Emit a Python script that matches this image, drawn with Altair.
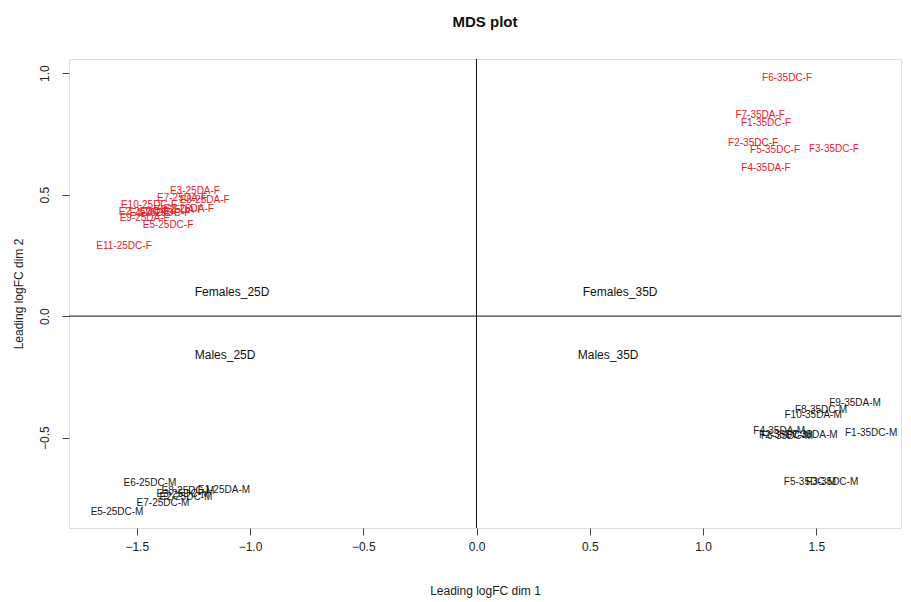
import altair as alt
import pandas as pd

# ---- data ----
labels = [
    # females 35D (red)
    "F6-35DC-F", "F7-35DA-F", "F1-35DC-F", "F2-35DC-F", "F5-35DC-F", "F3-35DC-F", "F4-35DA-F",
    # females 25D (red)
    "E3-25DA-F", "E7-25DA-F", "E8-25DA-F", "E10-25DC-F", "E6-25DA-F", "E4-25DC-F",
    "E1-25DC-F", "E2-25DA-F", "E2-25DC-F", "E9-25DA-F", "E5-25DC-F", "E11-25DC-F",
    # males 25D (black)
    "E6-25DC-M", "E8-25DC-M", "E3-25DC-M", "E2-25DC-M", "E1-25DA-M", "E7-25DC-M", "E5-25DC-M",
    # males 35D (black)
    "F9-35DA-M", "F8-35DC-M", "F10-35DA-M", "F4-35DA-M", "F2-35DC-M", "F6-35DC-M",
    "F7-35DA-M", "F1-35DC-M", "F5-35DC-M", "F3-35DC-M",
]
dim1 = [
    1.371, 1.252, 1.278, 1.221, 1.318, 1.578, 1.278,
    -1.243, -1.300, -1.200, -1.446, -1.315, -1.375,
    -1.420, -1.270, -1.468, -1.465, -1.362, -1.556,
    -1.442, -1.274, -1.296, -1.283, -1.115, -1.384, -1.587,
    1.671, 1.521, 1.486, 1.336, 1.362, 1.371,
    1.480, 1.742, 1.472, 1.570,
]
dim2 = [
    0.979, 0.827, 0.794, 0.712, 0.683, 0.687, 0.609,
    0.514, 0.486, 0.477, 0.457, 0.436, 0.424,
    0.424, 0.440, 0.428, 0.403, 0.374, 0.288,
    -0.687, -0.720, -0.733, -0.745, -0.716, -0.770, -0.807,
    -0.358, -0.387, -0.407, -0.473, -0.490, -0.494,
    -0.490, -0.481, -0.683, -0.683,
]
sex = ["F"] * 19 + ["M"] * 17

group_labels = ["Females_25D", "Females_35D", "Males_25D", "Males_35D"]
group_x = [-1.079, 0.634, -1.110, 0.581]
group_y = [0.099, 0.099, -0.160, -0.160]

x_ticks = [-1.5, -1.0, -0.5, 0.0, 0.5, 1.0, 1.5]
y_ticks = [-0.5, 0.0, 0.5, 1.0]

pts = pd.DataFrame({"label": labels, "x": dim1, "y": dim2, "sex": sex})
grp = pd.DataFrame({"label": group_labels, "x": group_x, "y": group_y})

FONT = "Liberation Sans"
W, H = 832, 469
xs = alt.Scale(domain=[-1.799, 1.874], nice=False, zero=False)
ys = alt.Scale(domain=[-0.872, 1.058], nice=False, zero=False)

xaxis = alt.Axis(values=x_ticks, format=".1f", grid=False, domain=False,
                 tickSize=7, tickColor="#444", labelPadding=6,
                 labelFont=FONT, labelFontSize=12, labelColor="#222",
                 title="Leading logFC dim 1", titleFont=FONT, titleFontSize=12,
                 titleFontWeight="normal", titleColor="#222",
                 titleY=66, titleBaseline="alphabetic")
yaxis = alt.Axis(values=y_ticks, format=".1f", grid=False, domain=False,
                 tickSize=7, tickColor="#444", labelPadding=11,
                 labelAngle=270, labelAlign="center", labelBaseline="bottom",
                 labelFont=FONT, labelFontSize=12, labelColor="#222",
                 title="Leading logFC dim 2", titleFont=FONT, titleFontSize=12,
                 titleFontWeight="normal", titleColor="#222",
                 titleX=-51, titleBaseline="middle")

base = alt.Chart(pts)

text = base.mark_text(font=FONT, fontSize=10, align="center", baseline="middle").encode(
    x=alt.X("x:Q", scale=xs, axis=xaxis),
    y=alt.Y("y:Q", scale=ys, axis=yaxis),
    text="label:N",
    color=alt.Color("sex:N", scale=alt.Scale(domain=["F", "M"], range=["#e8202a", "#1a1a1a"]),
                    legend=None),
)

gtext = alt.Chart(grp).mark_text(font=FONT, fontSize=12, align="center", baseline="middle",
                                 color="#111").encode(
    x=alt.X("x:Q", scale=xs), y=alt.Y("y:Q", scale=ys), text="label:N")

vrule = alt.Chart(pd.DataFrame({"v": [0.0]})).mark_rule(color="#111", strokeWidth=1).encode(
    x=alt.X("v:Q", scale=xs))
hrule = alt.Chart(pd.DataFrame({"v": [0.0]})).mark_rule(color="#111", strokeWidth=1).encode(
    y=alt.Y("v:Q", scale=ys))

chart = alt.layer(vrule, hrule, text, gtext).properties(
    width=W, height=H,
    title=alt.TitleParams("MDS plot", font=FONT, fontSize=15, fontWeight="bold",
                          color="#111", anchor="middle", offset=29),
    autosize=alt.AutoSizeParams(type="none"),
    padding={"left": 61, "top": 51, "right": 1, "bottom": 70},
).configure_view(stroke="#444", strokeWidth=1).configure(background="white")

chart.save("out.html", embed_options={"renderer": "svg", "actions": False})
